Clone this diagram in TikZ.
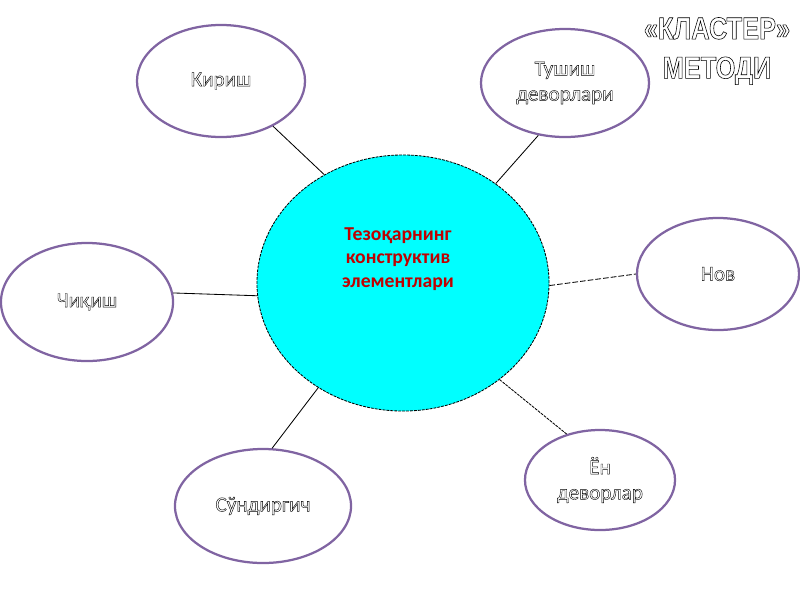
\documentclass[tikz,border=0pt]{standalone}
\usepackage{fontspec}
\setmainfont{Carlito}
\newfontfamily\titlefont[FakeStretch=0.82]{Liberation Sans}
\usetikzlibrary{shapes.geometric}
\definecolor{clpurple}{RGB}{128,100,162}
\definecolor{cldarkred}{RGB}{192,0,0}
\definecolor{clcyan}{RGB}{0,255,255}
\newcommand{\hollow}[2][0.3]{\special{pdf:code q 1 Tr #1 w}#2\special{pdf:code Q}}
\tikzset{
	outer/.style={ellipse,draw=clpurple,line width=1.6pt,fill=white,inner sep=0pt,align=center,
		font=\fontsize{15}{18}\selectfont,text=black},
	hub/.style={ellipse,draw=black,line width=0.6pt,dash pattern=on 2pt off 0.8pt,fill=clcyan,inner sep=0pt},
	link/.style={black,line width=0.6pt}
}

\begin{document}
\begin{tikzpicture}[x=0.025cm,y=-0.025cm]
	\useasboundingbox (0,0) rectangle (800,600);
	
	%centre
	\node[hub,minimum width=7.3cm,minimum height=6.4cm] (tezo) at (403,283) {};
	\node[align=center,text=cldarkred,font=\bfseries\fontsize{14}{16.7}\selectfont] (tezotext) at (398,259)
		{Тезоқарнинг\\ конструктив\\ элементлари};
	
	%outer ellipses
	\node[outer,minimum width=4.2cm,minimum height=2.8cm] (kirish) at (221,81) {\hollow{Кириш}};
	\node[outer,minimum width=4.2cm,minimum height=2.7cm] (tushish) at (565,83) {\hollow{Тушиш}\\ \hollow{деворлари}};
	\node[outer,minimum width=4.05cm,minimum height=2.8cm] (nov) at (718,274) {\hollow{Нов}};
	\node[outer,minimum width=4.3cm,minimum height=2.95cm] (chiqish) at (87,302) {\hollow{Чиқиш}};
	\node[outer,minimum width=4.4cm,minimum height=2.85cm] (sundirgich) at (263,506) {\hollow{Сўндиргич}};
	\node[outer,minimum width=3.75cm,minimum height=2.5cm] (yon) at (600,480) {\hollow{Ён}\\ \hollow{деворлар}};
	
	%connectors
	\draw[link] (kirish.-41) -- (tezo.126);
	\draw[link] (tushish.-117) -- (tezo.47);
	\draw[link,dash pattern=on 4pt off 1.5pt] (tezo.-1) -- (nov.180);
	\draw[link] (chiqish.6) -- (tezo.185);
	\draw[link] (sundirgich.81) -- (tezo.-129);
	\draw[link,dash pattern=on 2pt off 0.7pt] (yon.126) -- (tezo.-45);
	
	%title
	\node[align=center,font=\titlefont\bfseries\fontsize{22}{28}\selectfont] (title) at (717,51)
		{\hollow[0.4]{«КЛАСТЕР»}\\ \hollow[0.4]{МЕТОДИ}};
\end{tikzpicture}
\end{document}
